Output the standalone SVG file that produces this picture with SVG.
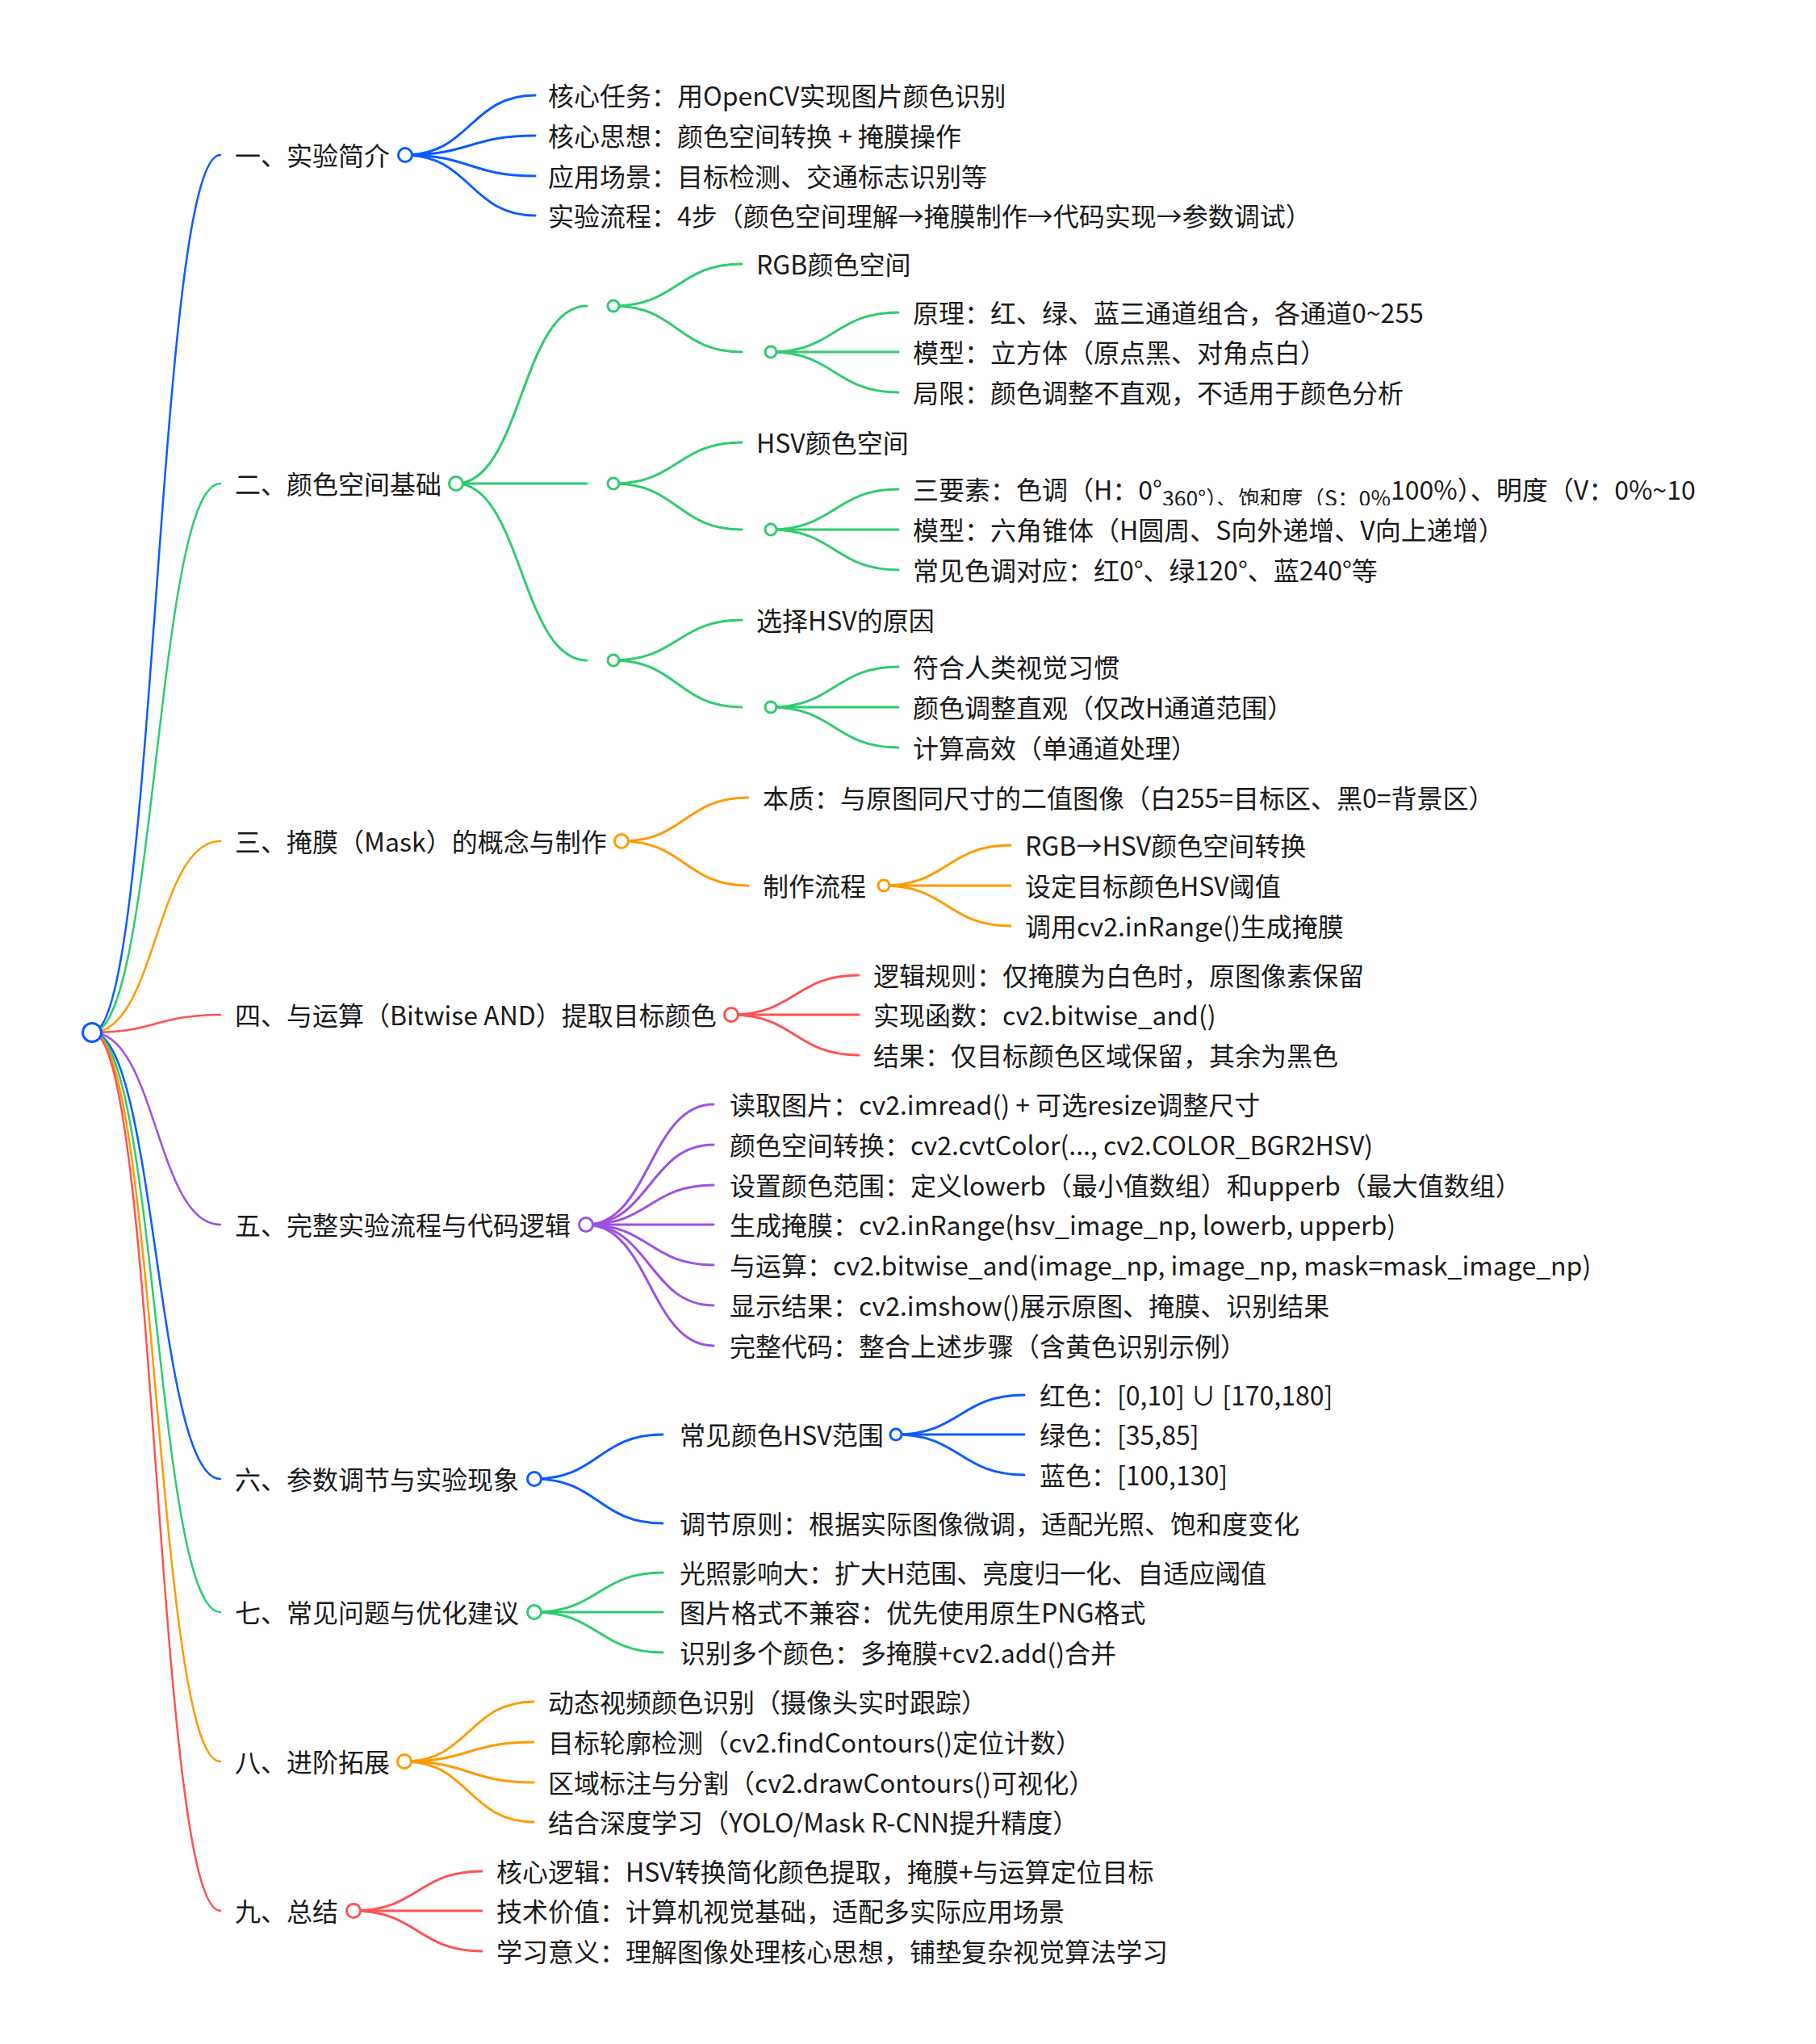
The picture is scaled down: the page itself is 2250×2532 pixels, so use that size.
<svg xmlns="http://www.w3.org/2000/svg" width="2250" height="2532" viewBox="0 0 2250 2532">
<style>
.t{font-family:"Noto Sans CJK SC","Noto Sans",sans-serif;font-size:32px;fill:#1a1a1a}
.l{fill:none;stroke-width:3;stroke-linecap:round}
.r0{stroke-width:2.5}
.c{fill:#fff;stroke-width:3}
.b{stroke:#0a5cff}.g{stroke:#2ecc6e}.o{stroke:#ff9a00}.r{stroke:#ff5252}.p{stroke:#9a52e6}
</style>
<defs>
<clipPath id="clipsub"><rect x="1100" y="570" width="1150" height="56"/></clipPath>
</defs>
<rect width="2250" height="2532" fill="#fff"/>
<g id="connectors">
<path class="l r0 b" d="M114,1279 C193.5,1279 193.5,192 273,192"/>
<path class="l r0 g" d="M114,1279 C193.5,1279 193.5,599 273,599"/>
<path class="l r0 o" d="M114,1279 C193.5,1279 193.5,1042 273,1042"/>
<path class="l r0 r" d="M114,1279 C193.5,1279 193.5,1257 273,1257"/>
<path class="l r0 p" d="M114,1279 C193.5,1279 193.5,1517 273,1517"/>
<path class="l r0 b" d="M114,1279 C193.5,1279 193.5,1832 273,1832"/>
<path class="l r0 g" d="M114,1279 C193.5,1279 193.5,1997 273,1997"/>
<path class="l r0 o" d="M114,1279 C193.5,1279 193.5,2182 273,2182"/>
<path class="l r0 r" d="M114,1279 C193.5,1279 193.5,2367 273,2367"/>
<path class="l b" d="M502,192 C582.5,192 582.5,118 663,118"/>
<path class="l b" d="M502,192 C582.5,192 582.5,168 663,168"/>
<path class="l b" d="M502,192 C582.5,192 582.5,218 663,218"/>
<path class="l b" d="M502,192 C582.5,192 582.5,267 663,267"/>
<path class="l g" d="M565,599 C646,599 646,379 727,379"/>
<path class="l g" d="M565,599 L727,599"/>
<path class="l g" d="M565,599 C646,599 646,818 727,818"/>
<path class="l g" d="M760,379 C839.5,379 839.5,327 919,327"/>
<path class="l g" d="M760,379 C839.5,379 839.5,436 919,436"/>
<path class="l g" d="M760,599 C839.5,599 839.5,548 919,548"/>
<path class="l g" d="M760,599 C839.5,599 839.5,656 919,656"/>
<path class="l g" d="M760,818 C839.5,818 839.5,768 919,768"/>
<path class="l g" d="M760,818 C839.5,818 839.5,876 919,876"/>
<path class="l g" d="M955,436 C1034,436 1034,387 1113,387"/>
<path class="l g" d="M955,436 L1113,436"/>
<path class="l g" d="M955,436 C1034,436 1034,486 1113,486"/>
<path class="l g" d="M955,656 C1034,656 1034,606 1113,606"/>
<path class="l g" d="M955,656 L1113,656"/>
<path class="l g" d="M955,656 C1034,656 1034,706 1113,706"/>
<path class="l g" d="M955,876 C1034,876 1034,826 1113,826"/>
<path class="l g" d="M955,876 L1113,876"/>
<path class="l g" d="M955,876 C1034,876 1034,926 1113,926"/>
<path class="l o" d="M770,1042 C848.5,1042 848.5,988 927,988"/>
<path class="l o" d="M770,1042 C848.5,1042 848.5,1097 927,1097"/>
<path class="l o" d="M1095,1097 C1173.5,1097 1173.5,1047 1252,1047"/>
<path class="l o" d="M1095,1097 L1252,1097"/>
<path class="l o" d="M1095,1097 C1173.5,1097 1173.5,1147 1252,1147"/>
<path class="l r" d="M906,1257 C985,1257 985,1208 1064,1208"/>
<path class="l r" d="M906,1257 L1064,1257"/>
<path class="l r" d="M906,1257 C985,1257 985,1307 1064,1307"/>
<path class="l p" d="M726,1517 C805,1517 805,1368 884,1368"/>
<path class="l p" d="M726,1517 C805,1517 805,1418 884,1418"/>
<path class="l p" d="M726,1517 C805,1517 805,1468 884,1468"/>
<path class="l p" d="M726,1517 L884,1517"/>
<path class="l p" d="M726,1517 C805,1517 805,1567 884,1567"/>
<path class="l p" d="M726,1517 C805,1517 805,1617 884,1617"/>
<path class="l p" d="M726,1517 C805,1517 805,1667 884,1667"/>
<path class="l b" d="M662,1832 C741.5,1832 741.5,1777 821,1777"/>
<path class="l b" d="M662,1832 C741.5,1832 741.5,1887 821,1887"/>
<path class="l b" d="M1110,1777 C1189.5,1777 1189.5,1728 1269,1728"/>
<path class="l b" d="M1110,1777 L1269,1777"/>
<path class="l b" d="M1110,1777 C1189.5,1777 1189.5,1827 1269,1827"/>
<path class="l g" d="M662,1997 C741.5,1997 741.5,1948 821,1948"/>
<path class="l g" d="M662,1997 L821,1997"/>
<path class="l g" d="M662,1997 C741.5,1997 741.5,2047 821,2047"/>
<path class="l o" d="M501,2182 C581,2182 581,2108 661,2108"/>
<path class="l o" d="M501,2182 C581,2182 581,2158 661,2158"/>
<path class="l o" d="M501,2182 C581,2182 581,2208 661,2208"/>
<path class="l o" d="M501,2182 C581,2182 581,2257 661,2257"/>
<path class="l r" d="M438,2367 C517.5,2367 517.5,2318 597,2318"/>
<path class="l r" d="M438,2367 L597,2367"/>
<path class="l r" d="M438,2367 C517.5,2367 517.5,2417 597,2417"/>
</g>
<g id="root"><circle class="c b" cx="114" cy="1279" r="11.5"/></g>

<g id="n1"><text class="t" x="291" y="205">一、实验简介</text><circle class="c b" cx="502" cy="192" r="8.5"/></g>
<g id="n1-1"><text class="t" x="679" y="131">核心任务：用OpenCV实现图片颜色识别</text></g>
<g id="n1-2"><text class="t" x="679" y="181">核心思想：颜色空间转换 + 掩膜操作</text></g>
<g id="n1-3"><text class="t" x="679" y="231">应用场景：目标检测、交通标志识别等</text></g>
<g id="n1-4"><text class="t" x="679" y="280">实验流程：4步（颜色空间理解→掩膜制作→代码实现→参数调试）</text></g>

<g id="n2"><text class="t" x="291" y="612">二、颜色空间基础</text><circle class="c g" cx="565" cy="599" r="8.5"/></g>
<g id="n2-a"><circle class="c g" cx="760" cy="379" r="7"/></g>
<g id="n2-a1"><text class="t" x="937" y="340">RGB颜色空间</text></g>
<g id="n2-a2"><circle class="c g" cx="955" cy="436" r="7"/></g>
<g id="n2-a2-1"><text class="t" x="1131" y="400">原理：红、绿、蓝三通道组合，各通道0~255</text></g>
<g id="n2-a2-2"><text class="t" x="1131" y="449">模型：立方体（原点黑、对角点白）</text></g>
<g id="n2-a2-3"><text class="t" x="1131" y="499">局限：颜色调整不直观，不适用于颜色分析</text></g>
<g id="n2-b"><circle class="c g" cx="760" cy="599" r="7"/></g>
<g id="n2-b1"><text class="t" x="937" y="561">HSV颜色空间</text></g>
<g id="n2-b2"><circle class="c g" cx="955" cy="656" r="7"/></g>
<g id="n2-b2-1"><text class="t" x="1131" y="619" clip-path="url(#clipsub)">三要素：色调（H：0°<tspan font-size="26.7" dy="8">360°）、饱和度（S：0%</tspan><tspan dy="-8">100%）、明度（V：0%~10</tspan></text></g>
<g id="n2-b2-2"><text class="t" x="1131" y="669">模型：六角锥体（H圆周、S向外递增、V向上递增）</text></g>
<g id="n2-b2-3"><text class="t" x="1131" y="719">常见色调对应：红0°、绿120°、蓝240°等</text></g>
<g id="n2-c"><circle class="c g" cx="760" cy="818" r="7"/></g>
<g id="n2-c1"><text class="t" x="937" y="781">选择HSV的原因</text></g>
<g id="n2-c2"><circle class="c g" cx="955" cy="876" r="7"/></g>
<g id="n2-c2-1"><text class="t" x="1131" y="839">符合人类视觉习惯</text></g>
<g id="n2-c2-2"><text class="t" x="1131" y="889">颜色调整直观（仅改H通道范围）</text></g>
<g id="n2-c2-3"><text class="t" x="1131" y="939">计算高效（单通道处理）</text></g>

<g id="n3"><text class="t" x="291" y="1055">三、掩膜（Mask）的概念与制作</text><circle class="c o" cx="770" cy="1042" r="8.5"/></g>
<g id="n3-1"><text class="t" x="945" y="1001">本质：与原图同尺寸的二值图像（白255=目标区、黑0=背景区）</text></g>
<g id="n3-2"><text class="t" x="945" y="1110">制作流程</text><circle class="c o" cx="1095" cy="1097" r="7"/></g>
<g id="n3-2-1"><text class="t" x="1270" y="1060">RGB→HSV颜色空间转换</text></g>
<g id="n3-2-2"><text class="t" x="1270" y="1110">设定目标颜色HSV阈值</text></g>
<g id="n3-2-3"><text class="t" x="1270" y="1160">调用cv2.inRange()生成掩膜</text></g>

<g id="n4"><text class="t" x="291" y="1270">四、与运算（Bitwise AND）提取目标颜色</text><circle class="c r" cx="906" cy="1257" r="8.5"/></g>
<g id="n4-1"><text class="t" x="1082" y="1221">逻辑规则：仅掩膜为白色时，原图像素保留</text></g>
<g id="n4-2"><text class="t" x="1082" y="1270">实现函数：cv2.bitwise_and()</text></g>
<g id="n4-3"><text class="t" x="1082" y="1320">结果：仅目标颜色区域保留，其余为黑色</text></g>

<g id="n5"><text class="t" x="291" y="1530">五、完整实验流程与代码逻辑</text><circle class="c p" cx="726" cy="1517" r="8.5"/></g>
<g id="n5-1"><text class="t" x="904" y="1381">读取图片：cv2.imread() + 可选resize调整尺寸</text></g>
<g id="n5-2"><text class="t" x="904" y="1431">颜色空间转换：cv2.cvtColor(..., cv2.COLOR_BGR2HSV)</text></g>
<g id="n5-3"><text class="t" x="904" y="1481">设置颜色范围：定义lowerb（最小值数组）和upperb（最大值数组）</text></g>
<g id="n5-4"><text class="t" x="904" y="1530">生成掩膜：cv2.inRange(hsv_image_np, lowerb, upperb)</text></g>
<g id="n5-5"><text class="t" x="904" y="1580">与运算：cv2.bitwise_and(image_np, image_np, mask=mask_image_np)</text></g>
<g id="n5-6"><text class="t" x="904" y="1630">显示结果：cv2.imshow()展示原图、掩膜、识别结果</text></g>
<g id="n5-7"><text class="t" x="904" y="1680">完整代码：整合上述步骤（含黄色识别示例）</text></g>

<g id="n6"><text class="t" x="291" y="1845">六、参数调节与实验现象</text><circle class="c b" cx="662" cy="1832" r="8.5"/></g>
<g id="n6-1"><text class="t" x="842" y="1790">常见颜色HSV范围</text><circle class="c b" cx="1110" cy="1777" r="7"/></g>
<g id="n6-1-1"><text class="t" x="1288" y="1741">红色：[0,10] ∪ [170,180]</text></g>
<g id="n6-1-2"><text class="t" x="1288" y="1790">绿色：[35,85]</text></g>
<g id="n6-1-3"><text class="t" x="1288" y="1840">蓝色：[100,130]</text></g>
<g id="n6-2"><text class="t" x="842" y="1900">调节原则：根据实际图像微调，适配光照、饱和度变化</text></g>

<g id="n7"><text class="t" x="291" y="2010">七、常见问题与优化建议</text><circle class="c g" cx="662" cy="1997" r="8.5"/></g>
<g id="n7-1"><text class="t" x="842" y="1961">光照影响大：扩大H范围、亮度归一化、自适应阈值</text></g>
<g id="n7-2"><text class="t" x="842" y="2010">图片格式不兼容：优先使用原生PNG格式</text></g>
<g id="n7-3"><text class="t" x="842" y="2060">识别多个颜色：多掩膜+cv2.add()合并</text></g>

<g id="n8"><text class="t" x="291" y="2195">八、进阶拓展</text><circle class="c o" cx="501" cy="2182" r="8.5"/></g>
<g id="n8-1"><text class="t" x="679" y="2121">动态视频颜色识别（摄像头实时跟踪）</text></g>
<g id="n8-2"><text class="t" x="679" y="2171">目标轮廓检测（cv2.findContours()定位计数）</text></g>
<g id="n8-3"><text class="t" x="679" y="2221">区域标注与分割（cv2.drawContours()可视化）</text></g>
<g id="n8-4"><text class="t" x="679" y="2270">结合深度学习（YOLO/Mask R-CNN提升精度）</text></g>

<g id="n9"><text class="t" x="291" y="2380">九、总结</text><circle class="c r" cx="438" cy="2367" r="8.5"/></g>
<g id="n9-1"><text class="t" x="615" y="2331">核心逻辑：HSV转换简化颜色提取，掩膜+与运算定位目标</text></g>
<g id="n9-2"><text class="t" x="615" y="2380">技术价值：计算机视觉基础，适配多实际应用场景</text></g>
<g id="n9-3"><text class="t" x="615" y="2430">学习意义：理解图像处理核心思想，铺垫复杂视觉算法学习</text></g>
</svg>
